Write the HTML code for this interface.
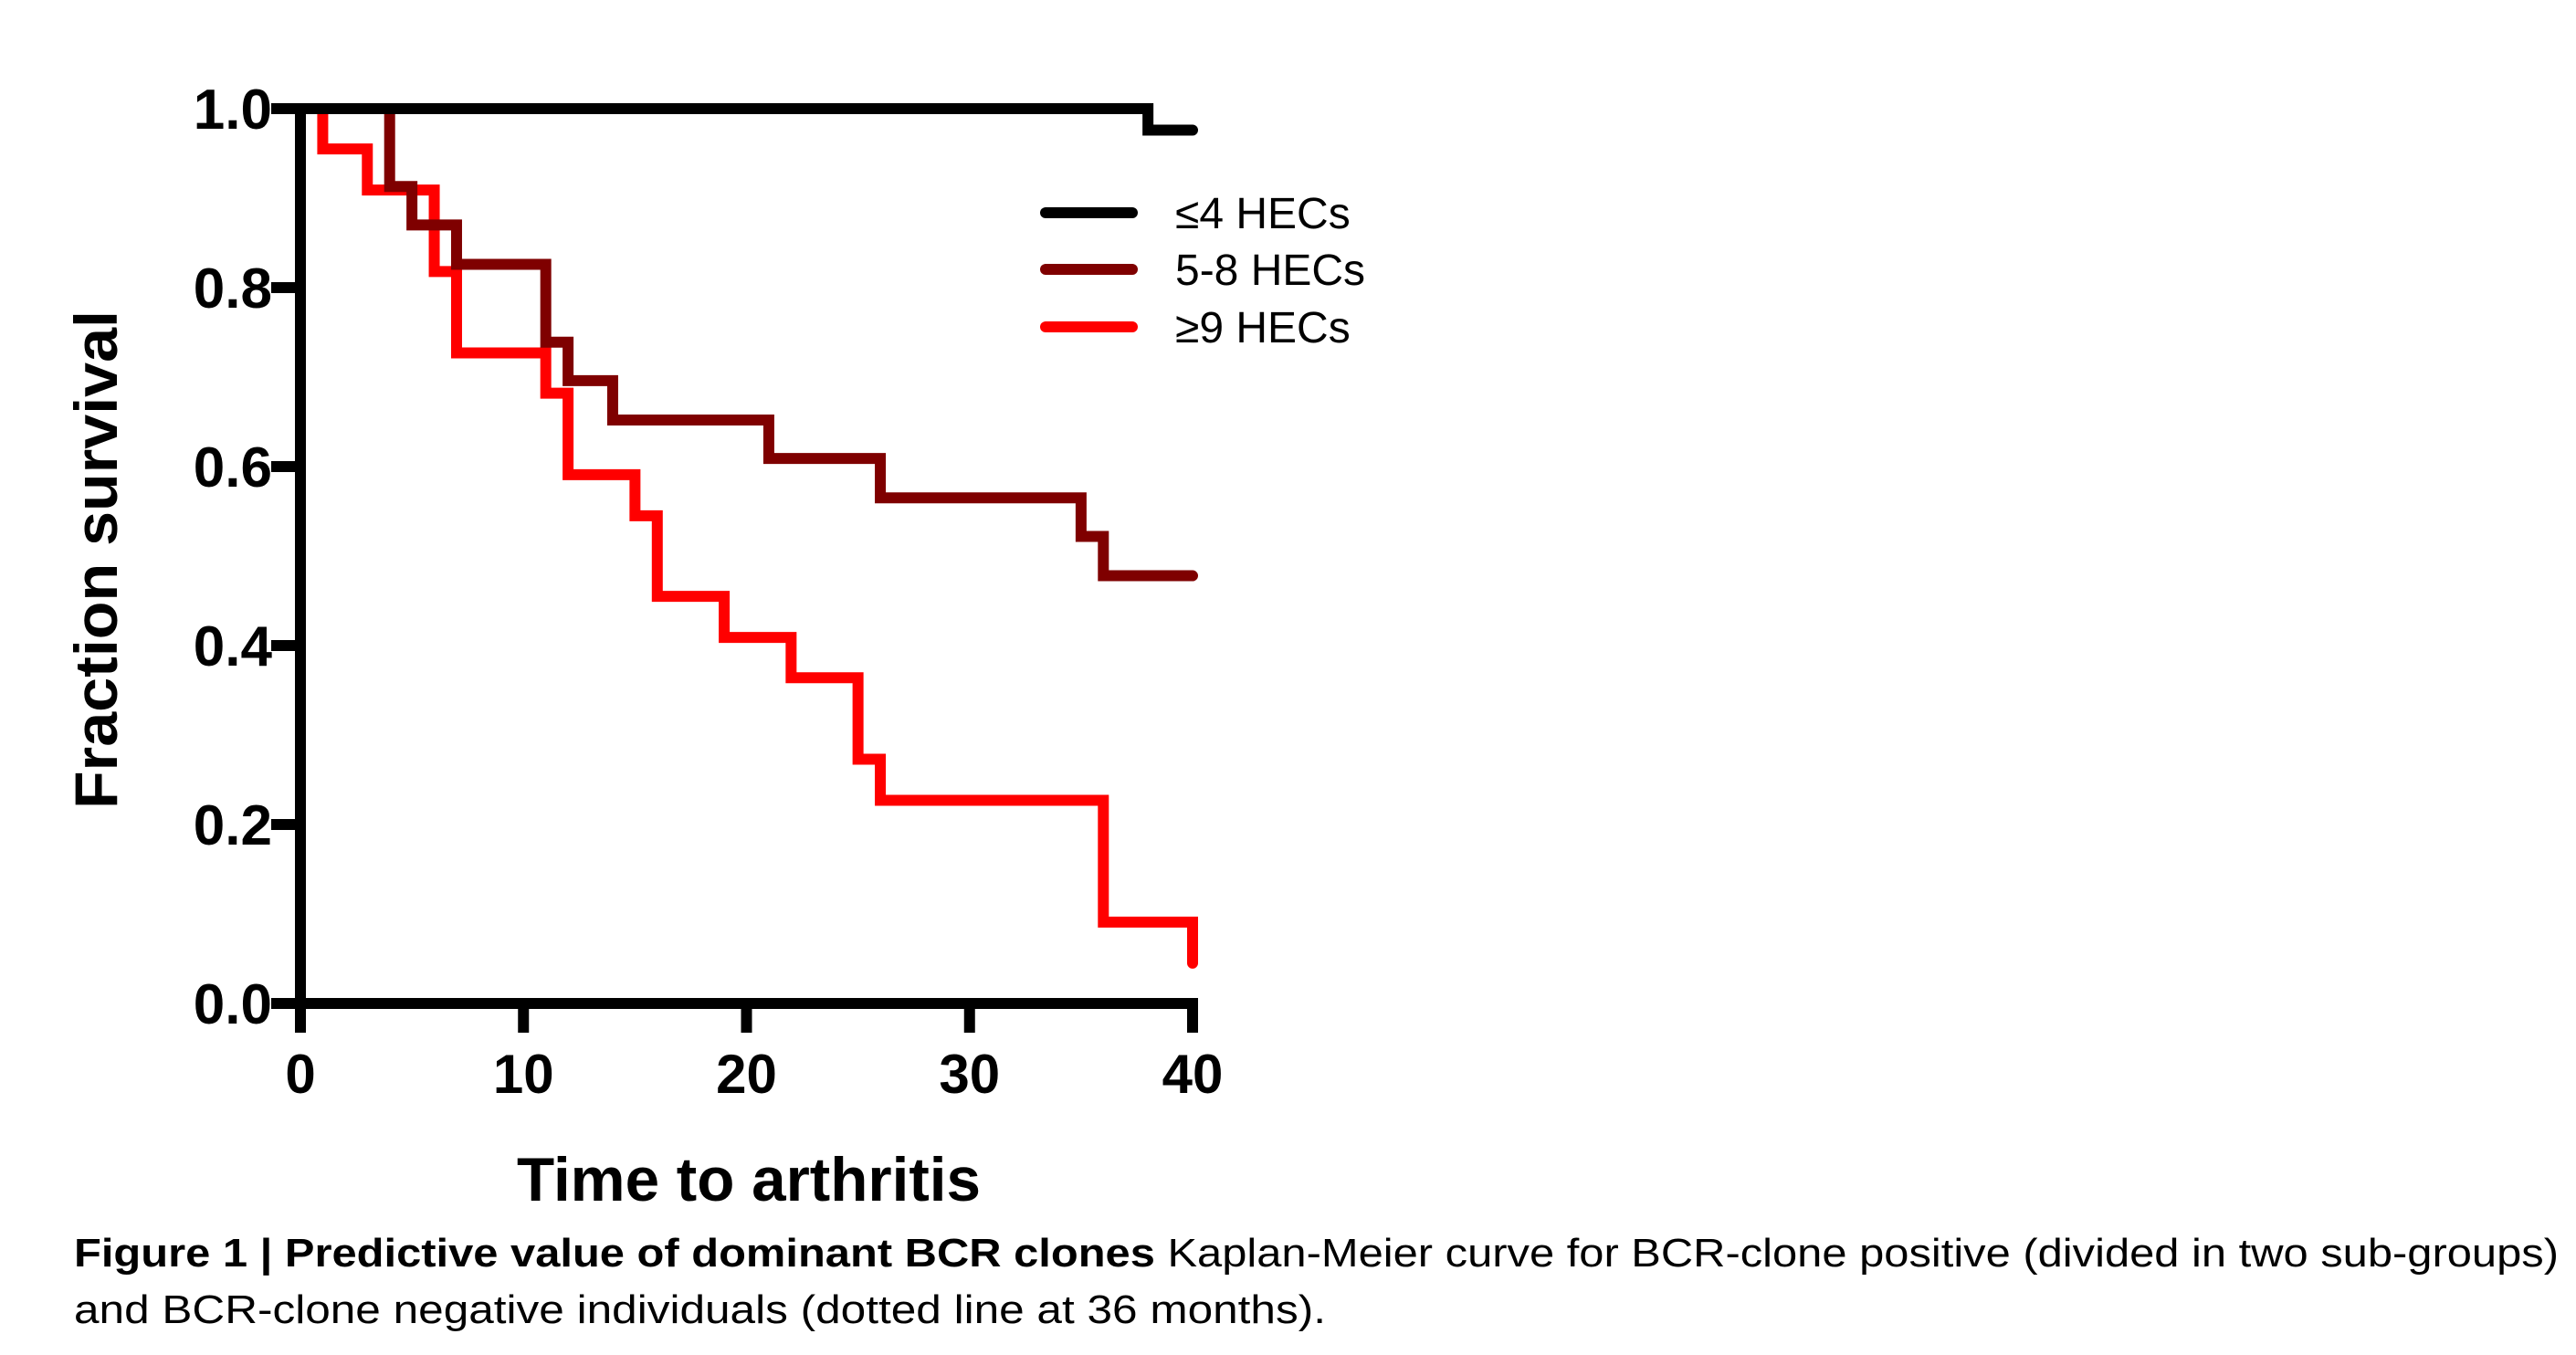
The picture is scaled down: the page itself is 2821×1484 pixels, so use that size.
<!DOCTYPE html>
<html><head><meta charset="utf-8"><style>
html,body{margin:0;padding:0;background:#fff}
svg{display:block}
</style></head><body>
<svg id="chart" width="2821" height="1484" viewBox="0 0 2821 1484" xmlns="http://www.w3.org/2000/svg" font-family="Liberation Sans, Arial, sans-serif">
<g id="curves"></g>
<g id="axes"></g>
<g>
<line x1="1145" y1="233" x2="1240" y2="233" stroke="#000" stroke-width="12" stroke-linecap="round"/>
<text x="1287" y="250" font-size="48">≤4 HECs</text>
<line x1="1145" y1="295" x2="1240" y2="295" stroke="#7f0000" stroke-width="12" stroke-linecap="round"/>
<text x="1287" y="312" font-size="48">5-8 HECs</text>
<line x1="1145" y1="358" x2="1240" y2="358" stroke="#ff0000" stroke-width="12" stroke-linecap="round"/>
<text x="1287" y="375" font-size="48">≥9 HECs</text>
</g>
<text transform="translate(128,613) rotate(-90)" text-anchor="middle" font-size="66" font-weight="bold" textLength="546" lengthAdjust="spacingAndGlyphs">Fraction survival</text>
<text x="566" y="1315" font-size="68" font-weight="bold" textLength="508" lengthAdjust="spacingAndGlyphs">Time to arthritis</text>
<text x="81" y="1387" font-size="44" textLength="2721" lengthAdjust="spacingAndGlyphs"><tspan font-weight="bold">Figure 1 | Predictive value of dominant BCR clones</tspan> Kaplan-Meier curve for BCR-clone positive (divided in two sub-groups)</text>
<text x="81" y="1449" font-size="44" textLength="1371" lengthAdjust="spacingAndGlyphs">and BCR-clone negative individuals (dotted line at 36 months).</text>
</svg>
<script>
const xTicks = [0, 10, 20, 30, 40];
const yTicks = [0.0, 0.2, 0.4, 0.6, 0.8, 1.0];
const yTickLabels = ["0.0", "0.2", "0.4", "0.6", "0.8", "1.0"];
const seriesNames = ["≤4 HECs", "5-8 HECs", "≥9 HECs"];
const lowTimes = [0, 38, 40];
const lowSurv = [1.0, 0.976, 0.976];
const midTimes = [0, 4, 5, 7, 11, 12, 14, 21, 26, 35, 36, 40];
const midSurv = [1.0, 0.913, 0.870, 0.826, 0.739, 0.696, 0.652, 0.609, 0.565, 0.522, 0.478, 0.478];
const highTimes = [0, 1, 3, 6, 7, 11, 12, 15, 16, 19, 22, 25, 26, 36, 40];
const highSurv = [1.0, 0.955, 0.909, 0.818, 0.727, 0.682, 0.591, 0.545, 0.455, 0.409, 0.364, 0.273, 0.227, 0.091, 0.045];

const NS = "http://www.w3.org/2000/svg";
const X0 = 329, X1 = 1306, Y0 = 1099, Y1 = 119;
function xs(t){ return X0 + (t - 0) / 40 * (X1 - X0); }
function ys(v){ return Y0 - v * (Y0 - Y1); }
function mk(tag, attrs, parent){
  const el = document.createElementNS(NS, tag);
  for (const k in attrs) el.setAttribute(k, attrs[k]);
  parent.appendChild(el);
  return el;
}
const curves = document.getElementById('curves');
const axes = document.getElementById('axes');
function stepPath(times, surv){
  let d = "M" + xs(times[0]) + "," + ys(surv[0]);
  for (let i = 1; i < times.length; i++){
    d += " H" + xs(times[i]) + " V" + ys(surv[i]);
  }
  return d;
}
const series = [
  {t: highTimes, s: highSurv, c: "#ff0000", n: "curve-ge9"},
  {t: midTimes, s: midSurv, c: "#7f0000", n: "curve-5-8"},
  {t: lowTimes, s: lowSurv, c: "#000000", n: "curve-le4"}
];
series.forEach(sr => {
  const p = mk('path', {d: stepPath(sr.t, sr.s), fill: "none", stroke: sr.c, "stroke-width": 12, "stroke-linecap": "round", "stroke-linejoin": "miter"}, curves);
  
  
});
const ya = mk('line', {x1: X0, y1: Y1 - 6, x2: X0, y2: Y0 + 32, stroke: "#000", "stroke-width": 12}, axes);


const xa = mk('line', {x1: X0 - 32, y1: Y0, x2: X1 + 6, y2: Y0, stroke: "#000", "stroke-width": 12}, axes);


yTicks.forEach((v, i) => {
  const tk = mk('line', {x1: X0 - 32, y1: ys(v), x2: X0, y2: ys(v), stroke: "#000", "stroke-width": 12}, axes);
  
  
  const tx = mk('text', {x: 298, y: ys(v) + 22, "text-anchor": "end", "font-size": 62, "font-weight": "bold"}, axes);
  tx.textContent = yTickLabels[i];
  
  
});
xTicks.forEach(v => {
  const tk = mk('line', {x1: xs(v), y1: Y0, x2: xs(v), y2: Y0 + 32, stroke: "#000", "stroke-width": 12}, axes);
  
  
  const tx = mk('text', {x: xs(v), y: 1197, "text-anchor": "middle", "font-size": 60, "font-weight": "bold"}, axes);
  tx.textContent = String(v);
  
  
});
</script>
</body></html>
